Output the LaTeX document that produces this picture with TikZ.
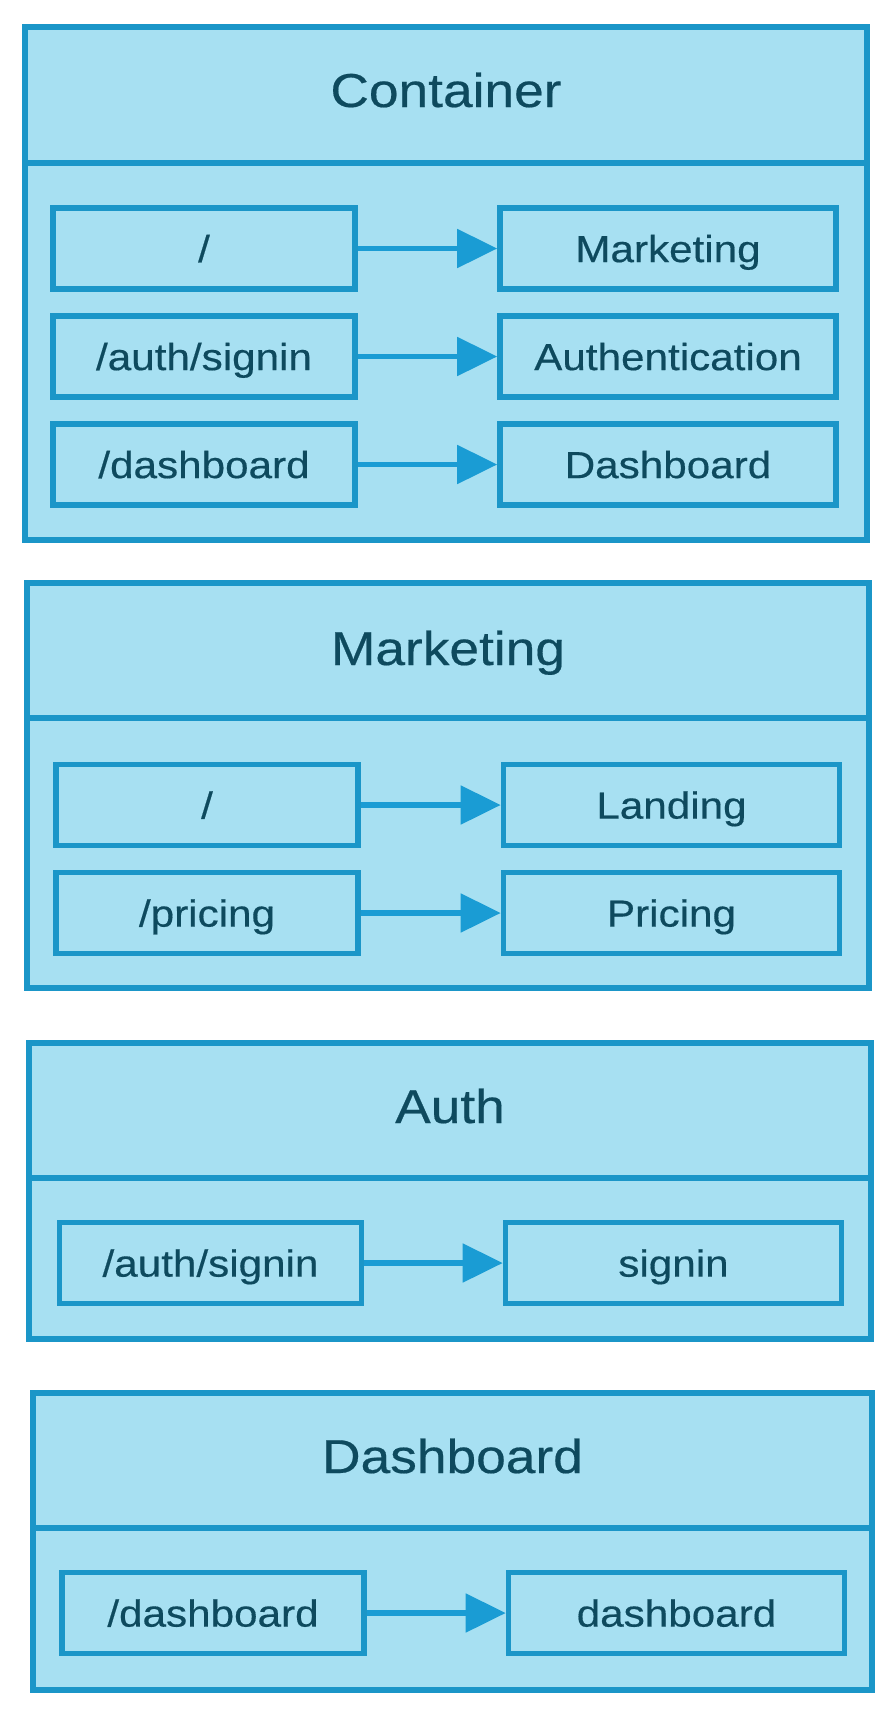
\documentclass[tikz,border=0pt]{standalone}
\usepackage{fontspec}
\setmainfont{Liberation Sans}[FakeStretch=1.12,FakeBold=0.4]
\usetikzlibrary{arrows.meta}
\definecolor{boxfill}{RGB}{167,224,242}
\definecolor{boxline}{RGB}{27,150,200}
\definecolor{arrowc}{RGB}{26,156,212}
\definecolor{txt}{RGB}{14,74,94}
\begin{document}
\begin{tikzpicture}[x=0.5pt,y=-0.5pt,
  secframe/.style={draw=boxline, fill=boxfill, line width=2.8pt},
  divline/.style={draw=boxline, line width=2.8pt},
  title/.style={anchor=base, text=txt, font=\fontsize{23.8pt}{28pt}\selectfont, inner sep=0pt},
  route/.style={draw=boxline, fill=boxfill, line width=2.8pt, minimum width=151pt, minimum height=40.5pt,
    text=txt, font=\fontsize{18.85pt}{22pt}\selectfont, text height=13.6pt, text depth=0pt, inner sep=0pt},
  target/.style={route, minimum width=168pt},
  link/.style={draw=arrowc, line width=2.6pt, -{Triangle[length=20pt,width=19pt]}}
]
\fill[white] (0,0) rectangle (894,1710);
\useasboundingbox (0,0) rectangle (894,1710);

% Container
\path[secframe] (25,27) rectangle (867,540);
\draw[divline] (25,163) -- (867,163);
\node[title] (tcont) at (446,107) {Container};
\node[route] (c1) at (204,248.5) {/};
\node[target] (c1t) at (668,248.5) {Marketing};
\node[route] (c2) at (204,356.5) {/auth/signin};
\node[target] (c2t) at (668,356.5) {Authentication};
\node[route] (c3) at (204,464.5) {/dashboard};
\node[target] (c3t) at (668,464.5) {Dashboard};
\draw[link] (c1) -- (c1t);
\draw[link] (c2) -- (c2t);
\draw[link] (c3) -- (c3t);

% Marketing
\path[secframe] (27,583) rectangle (869,988);
\draw[divline] (27,718) -- (869,718);
\node[title] (tmark) at (448,665) {Marketing};
\node[route] (m1) at (207,805) {/};
\node[target] (m1t) at (671.5,805) {Landing};
\node[route] (m2) at (207,913) {/pricing};
\node[target] (m2t) at (671.5,913) {Pricing};
\draw[link] (m1) -- (m1t);
\draw[link] (m2) -- (m2t);

% Auth
\path[secframe] (29,1043) rectangle (871,1339);
\draw[divline] (29,1178) -- (871,1178);
\node[title] (tauth) at (450,1123) {Auth};
\node[route] (a1) at (210.5,1263) {/auth/signin};
\node[target] (a1t) at (673.5,1263) {signin};
\draw[link] (a1) -- (a1t);

% Dashboard
\path[secframe] (33,1393) rectangle (872,1690);
\draw[divline] (33,1528) -- (872,1528);
\node[title] (tdash) at (452.5,1473) {Dashboard};
\node[route] (d1) at (213,1613) {/dashboard};
\node[target] (d1t) at (676.5,1613) {dashboard};
\draw[link] (d1) -- (d1t);
\end{tikzpicture}
\end{document}
